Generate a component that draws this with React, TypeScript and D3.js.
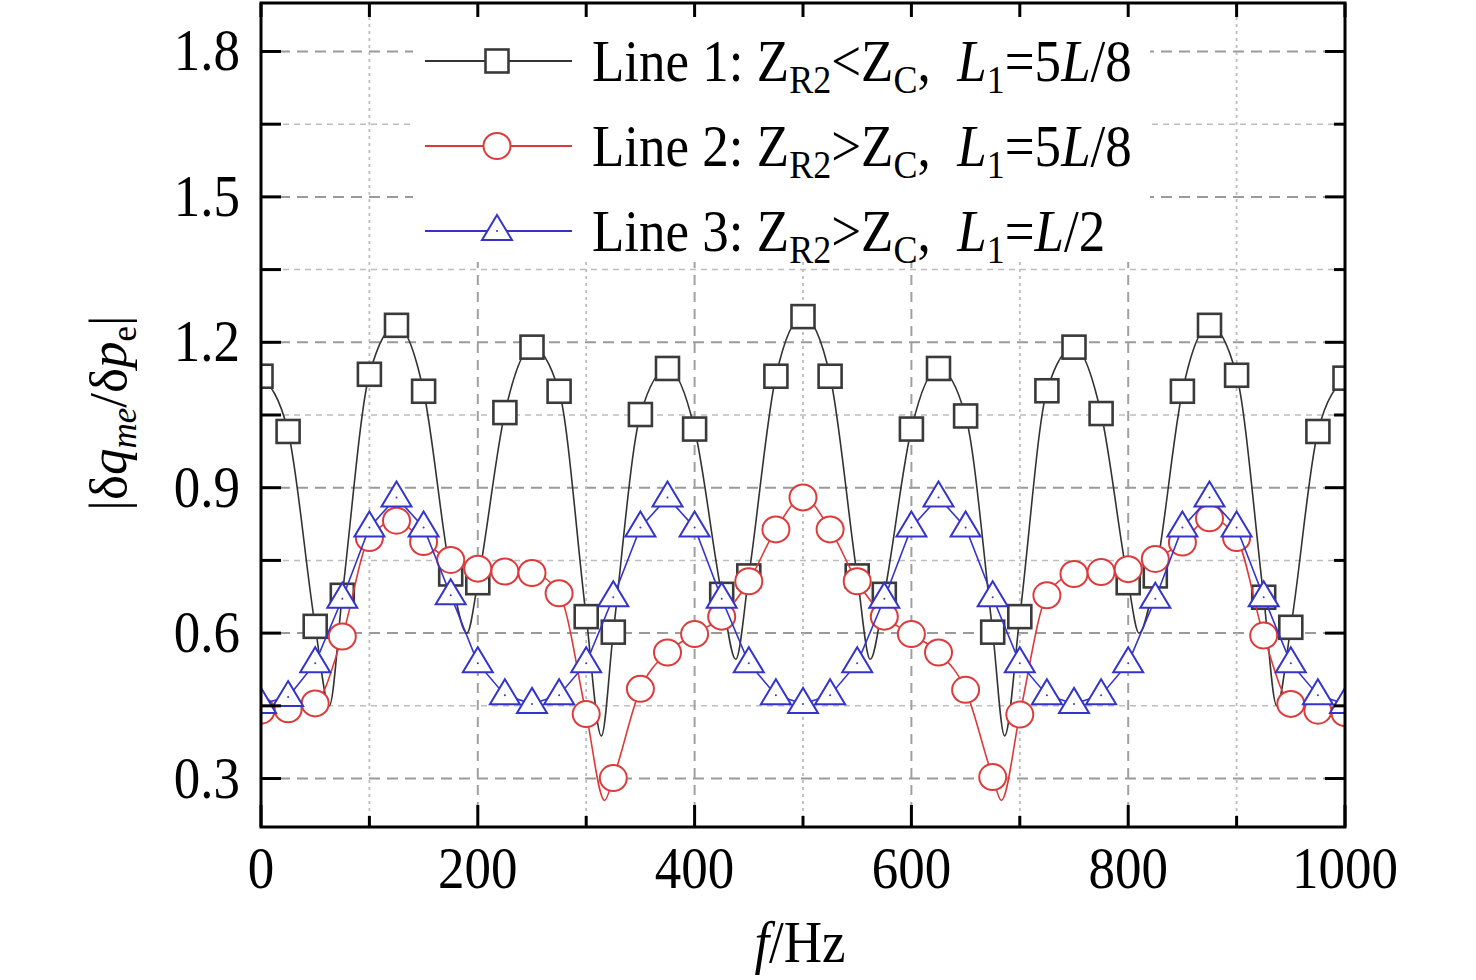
import * as d3 from 'd3';

const W = 1476;
const H = 980;
const plot = { left: 261, right: 1345, top: 3, bottom: 827 };

// frequencies of the plotted markers (Hz)
const hz = [
  0, 25, 50, 75, 100, 125, 150, 175, 200, 225, 250, 275, 300, 325, 350, 375, 400,
  425, 450, 475, 500, 525, 550, 575, 600, 625, 650, 675, 700, 725, 750, 775, 800,
  825, 850, 875, 900, 925, 950, 975, 1000,
];

// Line 1: ZR2 < ZC, L1 = 5L/8
const line1 = [
  1.13, 1.016, 0.614, 0.678, 1.134, 1.235, 1.099, 0.722, 0.704, 1.055, 1.19, 1.099, 0.634, 0.602, 1.051, 1.146, 1.021,
  0.68, 0.718, 1.13, 1.253, 1.13, 0.718, 0.68, 1.021, 1.146, 1.048, 0.602, 0.634, 1.1, 1.19, 1.053, 0.704,
  0.718, 1.099, 1.235, 1.132, 0.674, 0.612, 1.016, 1.126,
];
// troughs of line 1 that fall between markers
const line1Dips: [number, number][] = [
  [63, 0.45], [190, 0.6], [314, 0.388], [438, 0.546], [562, 0.546], [686, 0.388], [810, 0.6], [937, 0.45],
];

// Line 2: ZR2 > ZC, L1 = 5L/8
const line2 = [
  0.44, 0.443, 0.455, 0.593, 0.796, 0.832, 0.788, 0.751, 0.733, 0.727, 0.724, 0.682, 0.433, 0.301, 0.485, 0.56, 0.598,
  0.634, 0.707, 0.814, 0.88, 0.814, 0.707, 0.634, 0.598, 0.56, 0.483, 0.303, 0.432, 0.678, 0.722, 0.726, 0.732,
  0.753, 0.787, 0.837, 0.796, 0.595, 0.454, 0.44, 0.435,
];
const line2Dips: [number, number][] = [[317, 0.255], [683, 0.255]];

// Line 3: ZR2 > ZC, L1 = L/2
const line3 = [
  0.454, 0.468, 0.538, 0.671, 0.818, 0.88, 0.818, 0.678, 0.538, 0.472, 0.454, 0.472, 0.538, 0.674, 0.818, 0.88, 0.818,
  0.671, 0.538, 0.472, 0.454, 0.472, 0.538, 0.671, 0.818, 0.88, 0.818, 0.674, 0.538, 0.472, 0.454, 0.472, 0.538,
  0.671, 0.818, 0.88, 0.818, 0.674, 0.538, 0.472, 0.454,
];

const xMajor = [0, 200, 400, 600, 800, 1000];
const xAll = [0, 100, 200, 300, 400, 500, 600, 700, 800, 900, 1000];
const yMajor = [0.3, 0.6, 0.9, 1.2, 1.5, 1.8];
const yMinor = [0.45, 0.75, 1.05, 1.35, 1.65];

const font = '"Liberation Serif", "Times New Roman", serif';
const stretch = 'scale(1,1.1)'; // the reference type is a little taller than wide

const x = d3.scaleLinear().domain([0, 1000]).range([plot.left, plot.right]);
const y = d3.scaleLinear().domain([0.2, 1.9]).range([plot.bottom, plot.top]);

type Pt = [number, number];

function withDips(vals: number[], dips: Pt[]): Pt[] {
  const pts: Pt[] = hz.map((h, i) => [h, vals[i]]);
  return pts.concat(dips).sort((a, b) => a[0] - b[0]);
}

const smooth = d3.line<Pt>().x(d => x(d[0])).y(d => y(d[1])).curve(d3.curveMonotoneX);
const straight = d3.line<Pt>().x(d => x(d[0])).y(d => y(d[1]));

const C1 = '#333333';
const C2 = '#dd3b3b';
const C3 = '#3434cc';

const tri = 'M0,-16L15,9L-15,9Z';

function Square({ cx, cy }: { cx: number; cy: number }) {
  return <rect x={cx - 11.5} y={cy - 11.5} width={23} height={23} fill="#fff" stroke="#3a3a3a" strokeWidth={2.6} />;
}
function Circle({ cx, cy }: { cx: number; cy: number }) {
  return <ellipse cx={cx} cy={cy} rx={13.5} ry={13} fill="#fff" stroke={C2} strokeWidth={2} />;
}
function Tri({ cx, cy }: { cx: number; cy: number }) {
  return (
    <g transform={`translate(${cx},${cy})`}>
      <path d={tri} fill="#fff" stroke={C3} strokeWidth={2} />
      <circle r={1} fill={C3} />
    </g>
  );
}

const legendRows = [
  { y: 61, color: C1, Marker: Square, op: '<', eq: '=5', tail: '/8' },
  { y: 146, color: C2, Marker: Circle, op: '>', eq: '=5', tail: '/8' },
  { y: 231, color: C3, Marker: Tri, op: '>', eq: '=', tail: '/2' },
];

export default function App() {
  const p1 = withDips(line1, line1Dips);
  const p2 = withDips(line2, line2Dips);
  const p3: Pt[] = hz.map((h, i) => [h, line3[i]]);
  const sub = 36;
  const sd = 11;

  return (
    <svg width={W} height={H} style={{ position: 'absolute', left: 0, top: 0, background: '#fff' }} fontFamily={font}>
      <defs>
        <clipPath id="plotClip">
          <rect x={plot.left} y={plot.top} width={plot.right - plot.left} height={plot.bottom - plot.top} />
        </clipPath>
      </defs>

      {/* grid */}
      <g>
        {yMajor.map(v => (
          <line key={'gy' + v} x1={plot.left} x2={plot.right} y1={y(v)} y2={y(v)} stroke="#9a9a9a" strokeWidth={2} strokeDasharray="11 7" />
        ))}
        {yMinor.map(v => (
          <line key={'gm' + v} x1={plot.left} x2={plot.right} y1={y(v)} y2={y(v)} stroke="#bdbdbd" strokeWidth={1.5} strokeDasharray="6 5" />
        ))}
        {xAll.slice(1, -1).map(v => (
          <line key={'gx' + v} x1={x(v)} x2={x(v)} y1={plot.top} y2={plot.bottom}
            stroke={v % 200 === 0 ? '#a0a0a0' : '#bdbdbd'} strokeWidth={v % 200 === 0 ? 2 : 1.8}
            strokeDasharray={v % 200 === 0 ? '10 7' : '3 4'} />
        ))}
      </g>

      {/* legend background hides grid */}
      <rect x={413} y={8} width={737} height={254} fill="#fff" />

      <g clipPath="url(#plotClip)">
        <path d={smooth(p1) || ''} fill="none" stroke={C1} strokeWidth={1.6} />
        {hz.map((h, i) => <Square key={'s' + h} cx={x(h)} cy={y(line1[i])} />)}
        <path d={smooth(p2) || ''} fill="none" stroke={C2} strokeWidth={1.6} />
        {hz.map((h, i) => <Circle key={'c' + h} cx={x(h)} cy={y(line2[i])} />)}
        <path d={straight(p3) || ''} fill="none" stroke={C3} strokeWidth={1.6} />
        {hz.map((h, i) => <Tri key={'t' + h} cx={x(h)} cy={y(line3[i])} />)}
      </g>

      {/* frame */}
      <rect x={plot.left} y={plot.top} width={plot.right - plot.left} height={plot.bottom - plot.top} fill="none" stroke="#000" strokeWidth={3} />

      {/* ticks */}
      <g stroke="#000" strokeWidth={3}>
        {yMajor.concat(yMinor).map(v => (
          <line key={'lt' + v} x1={plot.left} x2={plot.left + 20} y1={y(v)} y2={y(v)} />
        ))}
        {yMajor.map(v => (
          <line key={'rt' + v} x1={plot.right} x2={plot.right - 20} y1={y(v)} y2={y(v)} />
        ))}
        {yMinor.map(v => (
          <line key={'rm' + v} x1={plot.right} x2={plot.right - 11} y1={y(v)} y2={y(v)} />
        ))}
        {xAll.map(v => (
          <line key={'bt' + v} x1={x(v)} x2={x(v)} y1={plot.bottom} y2={plot.bottom - (v % 200 === 0 ? 22 : 11)} />
        ))}
        {xAll.map(v => (
          <line key={'tt' + v} x1={x(v)} x2={x(v)} y1={plot.top} y2={plot.top + 14} />
        ))}
      </g>

      {/* tick labels */}
      <g fontSize={53} fill="#000">
        {yMajor.map(v => (
          <g key={'yl' + v} transform={`translate(240,${y(v) + 19}) ${stretch}`}>
            <text textAnchor="end">{d3.format('.1f')(v)}</text>
          </g>
        ))}
        {xMajor.map(v => (
          <g key={'xl' + v} transform={`translate(${x(v)},888) ${stretch}`}>
            <text textAnchor="middle">{v}</text>
          </g>
        ))}
      </g>

      {/* axis titles */}
      <g transform={`translate(800,962) ${stretch}`}>
        <text fontSize={53} textAnchor="middle">
          <tspan fontStyle="italic">f</tspan>/Hz
        </text>
      </g>
      <text transform="translate(126,413) rotate(-90)" fontSize={53} textAnchor="middle">
        |δ<tspan fontStyle="italic">q</tspan>
        <tspan fontStyle="italic" fontSize={35} dy={10}>me</tspan>
        <tspan dy={-10}>/δ</tspan>
        <tspan fontStyle="italic">p</tspan>
        <tspan fontSize={35} dy={10}>e</tspan>
        <tspan dy={-10}>|</tspan>
      </text>

      {/* legend */}
      {legendRows.map((r, i) => {
        const M = r.Marker;
        return (
          <g key={'lg' + i}>
            <line x1={425} x2={572} y1={r.y} y2={r.y} stroke={r.color} strokeWidth={1.8} />
            <M cx={497} cy={r.y} />
            <g transform={`translate(592,${r.y + 20}) ${stretch}`}>
              <text fontSize={53}>
                Line {i + 1}: Z
                <tspan fontSize={sub} dy={sd}>R2</tspan>
                <tspan dy={-sd}>{r.op}Z</tspan>
                <tspan fontSize={sub} dy={sd}>C</tspan>
                <tspan dy={-sd}>,{'\u00a0\u00a0'}</tspan>
                <tspan fontStyle="italic">L</tspan>
                <tspan fontSize={sub} dy={sd}>1</tspan>
                <tspan dy={-sd}>{r.eq}</tspan>
                <tspan fontStyle="italic">L</tspan>
                <tspan>{r.tail}</tspan>
              </text>
            </g>
          </g>
        );
      })}
    </svg>
  );
}
